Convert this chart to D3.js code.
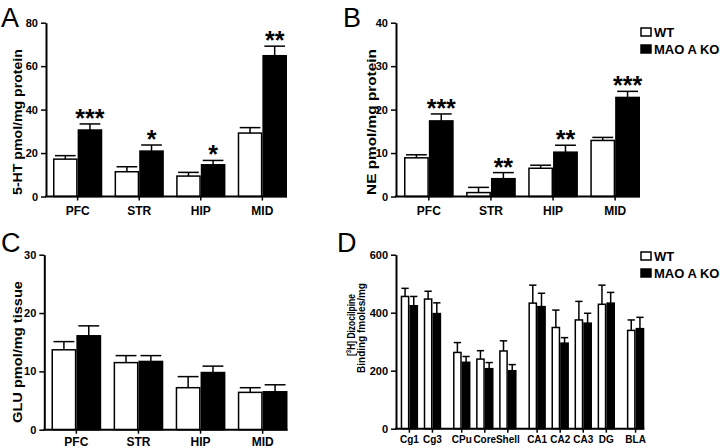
<!DOCTYPE html>
<html><head><meta charset="utf-8">
<script src="https://cdn.jsdelivr.net/npm/d3@7"></script>
<style>
body{margin:0;background:#fff;}
svg text{font-family:"Liberation Sans",Arial,Helvetica,sans-serif;}
</style></head>
<body><svg id="c" width="720" height="448"></svg>
<script>
// ---------- DATA ----------
const regions = ["PFC", "STR", "HIP", "MID"];
const seriesNames = ["WT", "MAO A KO"];

const htWT = [17.2, 11.4, 9.4, 29.2];
const htWTsem = [1.6, 2.3, 1.7, 2.5];
const htKO = [30.6, 20.9, 14.6, 64.8];
const htKOsem = [2.8, 2.8, 2.0, 4.4];
const htStars = ["***", "*", "*", "**"];
const htTicks = [0, 20, 40, 60, 80];

const neWT = [8.9, 0.9, 6.5, 12.9];
const neWTsem = [0.7, 1.2, 0.7, 0.7];
const neKO = [17.4, 4.1, 10.2, 22.8];
const neKOsem = [1.6, 1.4, 1.6, 1.4];
const neStars = ["***", "**", "**", "***"];
const neTicks = [0, 10, 20, 30, 40];

const gluWT = [13.7, 11.5, 7.2, 6.4];
const gluWTsem = [1.4, 1.2, 1.9, 0.8];
const gluKO = [16.1, 11.7, 9.8, 6.5];
const gluKOsem = [1.7, 1.0, 1.1, 1.2];
const gluTicks = [0, 10, 20, 30];

const dzRegions = ["Cg1", "Cg3", "CPu", "Core", "Shell", "CA1", "CA2", "CA3", "DG", "BLA"];
const dzGroup = [0, 0, 1, 1, 1, 2, 2, 2, 2, 3];
const dzWT = [456, 447, 263, 240, 268, 433, 349, 375, 429, 339];
const dzWTsem = [28, 27, 34, 29, 35, 62, 60, 64, 66, 36];
const dzKO = [424, 397, 229, 207, 200, 421, 295, 364, 433, 345];
const dzKOsem = [32, 37, 20, 21, 21, 46, 19, 34, 37, 39];
const dzTicks = [0, 200, 400, 600];

// ---------- DRAW ----------
const svg = d3.select("#c");
const FONT = '"Liberation Sans",Arial,Helvetica,sans-serif';

function panel(cfg) {
  const g = svg.append("g");
  const y = d3.scaleLinear().domain([0, cfg.ymax]).range([cfg.y0, cfg.y1]);
  let xL, bw;
  if (cfg.groups) {
    const gap = 0.27, frac = 0.755;
    const slot = cfg.cats.map((c, i) => i + cfg.groups[i] * gap);
    const lin = d3.scaleLinear().domain([0, slot[slot.length - 1] + frac]).range([cfg.bx0, cfg.bx1]);
    xL = i => lin(slot[i]);
    bw = (lin(frac) - lin(0)) / 2;
  } else {
    const band = d3.scaleBand().domain(cfg.cats).range([cfg.bx0, cfg.bx1]).paddingInner(0.2).paddingOuter(0);
    xL = i => band(cfg.cats[i]);
    bw = band.bandwidth() / 2;
  }
  const series = [
    {v: cfg.wt, e: cfg.wtSem, fill: "#fff", off: 0},
    {v: cfg.ko, e: cfg.koSem, fill: "#000", off: 1}
  ];
  const cap = bw * 0.42;
  series.forEach(s => {
    cfg.cats.forEach((c, i) => {
      const x = xL(i) + s.off * bw;
      const cx = x + bw / 2;
      const top = y(s.v[i] + s.e[i]);
      g.append("line").attr("x1", cx).attr("x2", cx).attr("y1", y(s.v[i])).attr("y2", top)
        .attr("stroke", "#000").attr("stroke-width", 1.5);
      g.append("line").attr("x1", cx - cap).attr("x2", cx + cap).attr("y1", top).attr("y2", top)
        .attr("stroke", "#000").attr("stroke-width", 1.5);
      g.append("rect").attr("x", x + 0.75).attr("y", y(s.v[i]))
        .attr("width", bw - 1.5).attr("height", cfg.y0 - y(s.v[i]))
        .attr("fill", s.fill).attr("stroke", "#000").attr("stroke-width", 1.5);
    });
  });
  if (cfg.stars) {
    cfg.stars.forEach((st, i) => {
      const cx = xL(i) + bw * 1.5;
      g.append("text").attr("x", cx).attr("y", y(cfg.ko[i] + cfg.koSem[i]) + 3)
        .attr("text-anchor", "middle").attr("font-size", 25).attr("font-weight", "bold")
        .text(st);
    });
  }
  const ax = g.append("g").attr("transform", `translate(${cfg.ax},0)`)
    .call(d3.axisLeft(y).tickValues(cfg.ticks).tickSize(5).tickSizeOuter(0).tickPadding(3));
  ax.select(".domain").attr("stroke-width", 2);
  ax.selectAll(".tick line").attr("stroke-width", 1.5);
  ax.selectAll("text").attr("font-family", FONT).attr("font-size", 11).attr("font-weight", "bold").attr("fill", "#000");
  g.append("line").attr("x1", cfg.ax - 1).attr("x2", cfg.bx1).attr("y1", cfg.y0).attr("y2", cfg.y0)
    .attr("stroke", "#000").attr("stroke-width", 2);
  cfg.cats.forEach((c, i) => {
    const cx = xL(i) + bw;
    g.append("line").attr("x1", cx).attr("x2", cx).attr("y1", cfg.y0).attr("y2", cfg.y0 + 4)
      .attr("stroke", "#000").attr("stroke-width", 1.5);
    g.append("text").attr("x", cx).attr("y", cfg.labY).attr("text-anchor", "middle")
      .attr("font-size", cfg.labSize).attr("font-weight", "bold")
      .text(c);
  });
  cfg.titles.forEach(t => {
    const tx = g.append("text")
      .attr("text-anchor", "middle").attr("dominant-baseline", "central")
      .attr("font-size", t.size).attr("font-weight", "bold");
    if (t.sup) {
      tx.append("tspan").text("[");
      tx.append("tspan").attr("dy", -3).attr("font-size", t.size * 0.7).text("3");
      tx.append("tspan").attr("dy", 3).text(t.text);
    } else tx.text(t.text);
    const nat = tx.node().getComputedTextLength();
    tx.attr("transform", `translate(${t.x},${t.y}) rotate(-90) scale(${t.len / nat},1)`);
  });
  g.append("text").attr("x", cfg.letter[1]).attr("y", cfg.letter[2]).attr("font-size", 27)
    .text(cfg.letter[0]);
  if (cfg.legend) {
    const [lx, ly] = cfg.legend;
    seriesNames.forEach((n, k) => {
      g.append("rect").attr("x", lx).attr("y", ly + k * 17).attr("width", 10).attr("height", 8)
        .attr("fill", k ? "#000" : "#fff").attr("stroke", "#000").attr("stroke-width", 1.5);
      g.append("text").attr("x", lx + 13).attr("y", ly + k * 17 + 9).attr("font-size", 13)
        .attr("font-weight", "bold").text(n);
    });
  }
}

panel({cats: regions, wt: htWT, wtSem: htWTsem, ko: htKO, koSem: htKOsem, stars: htStars,
  ticks: htTicks, ymax: 80, y0: 196.5, y1: 22.7, ax: 46, bx0: 53, bx1: 287, labY: 215, labSize: 12,
  titles: [{text: "5-HT pmol/mg protein", x: 18, y: 122, size: 12, len: 146}],
  letter: ["A", 1, 27]});

panel({cats: regions, wt: neWT, wtSem: neWTsem, ko: neKO, koSem: neKOsem, stars: neStars,
  ticks: neTicks, ymax: 40, y0: 196.5, y1: 22.7, ax: 396, bx0: 404, bx1: 640, labY: 215, labSize: 12,
  titles: [{text: "NE pmol/mg protein", x: 372, y: 122, size: 12, len: 146}],
  letter: ["B", 343, 27], legend: [641, 28]});

panel({cats: regions, wt: gluWT, wtSem: gluWTsem, ko: gluKO, koSem: gluKOsem,
  ticks: gluTicks, ymax: 30, y0: 429.7, y1: 254.7, ax: 44.3, bx0: 51.5, bx1: 287.5, labY: 446, labSize: 12,
  titles: [{text: "GLU pmol/mg tissue", x: 18, y: 352, size: 12, len: 142}],
  letter: ["C", 1, 252]});

panel({cats: dzRegions, groups: dzGroup, wt: dzWT, wtSem: dzWTsem, ko: dzKO, koSem: dzKOsem,
  ticks: dzTicks, ymax: 600, y0: 428.7, y1: 254.7, ax: 396, bx0: 400.7, bx1: 644.3, labY: 443, labSize: 10,
  titles: [{text: "H] Dizocilpine", sup: true, x: 351, y: 325, size: 11, len: 62},
           {text: "Binding fmoles/mg", x: 361, y: 328, size: 11, len: 90}],
  letter: ["D", 337, 252], legend: [641, 252]});
</script></body></html>
